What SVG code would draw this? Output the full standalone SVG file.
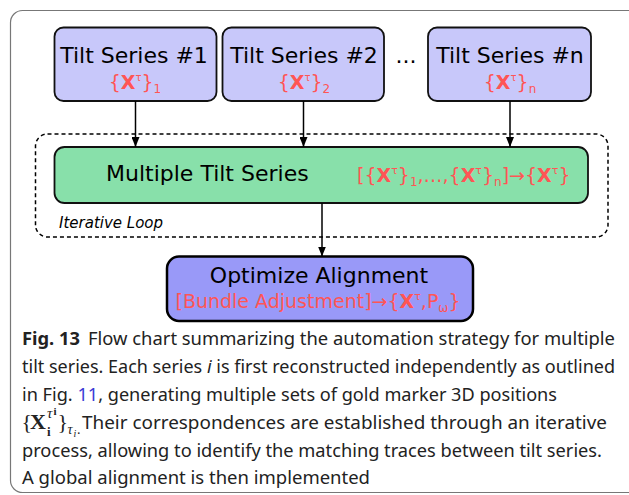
<svg xmlns="http://www.w3.org/2000/svg" width="629" height="495" viewBox="0 0 629 495">
<style>
.lbl{font-family:"DejaVu Sans",sans-serif;font-size:22px;fill:#000}
.red{font-family:"DejaVu Sans",sans-serif;font-size:19px;fill:#ff5555}
.b{font-weight:bold}
.ts{fill:#c8c8fa;stroke:#111;stroke-width:1.8}
.cap{font-family:"Noto Sans",sans-serif;font-size:18px;fill:#222}
.math{font-family:"Liberation Serif",serif;fill:#222}
.conn{stroke:#000;stroke-width:1.5;fill:none}
</style>
<defs>
<marker id="ah" markerUnits="userSpaceOnUse" markerWidth="10" markerHeight="8" refX="10" refY="4" orient="auto">
<path d="M0,0 L10,4 L0,8 z" fill="#000"/>
</marker>
</defs>
<rect id="frame" x="10.5" y="10.5" width="650" height="482" rx="12" fill="#fff" stroke="#777" stroke-width="1.2"/>
<g id="loop">
<rect x="35.5" y="134" width="572.5" height="103" rx="12" fill="none" stroke="#000" stroke-width="1.5" stroke-dasharray="4 3"/>
<text x="59" y="228" font-family="DejaVu Sans,sans-serif" font-size="15" font-style="italic" fill="#000">Iterative Loop</text>
</g>
<g id="ts1">
<rect class="ts" x="54.5" y="27.5" width="162" height="73.5" rx="9" stroke-width="1.5"/>
<text class="lbl" x="134" y="63" text-anchor="middle">Tilt Series #1</text>
<text class="red" x="135" y="89" text-anchor="middle" font-size="18">{<tspan class="b">X</tspan><tspan font-size="10" dy="-8">τ</tspan><tspan dy="8">}</tspan><tspan font-size="12" dy="4">1</tspan></text>
</g>
<g id="ts2">
<rect class="ts" x="222.5" y="27.5" width="161.5" height="73.5" rx="9"/>
<text class="lbl" x="304" y="63" text-anchor="middle">Tilt Series #2</text>
<text class="red" x="304" y="89" text-anchor="middle" font-size="18">{<tspan class="b">X</tspan><tspan font-size="10" dy="-8">τ</tspan><tspan dy="8">}</tspan><tspan font-size="12" dy="4">2</tspan></text>
</g>
<text id="dots" class="lbl" x="406" y="63" text-anchor="middle">...</text>
<g id="tsn">
<rect class="ts" x="428" y="27.5" width="163" height="73.5" rx="9"/>
<text class="lbl" x="510" y="63" text-anchor="middle">Tilt Series #n</text>
<text class="red" x="510" y="89" text-anchor="middle" font-size="18">{<tspan class="b">X</tspan><tspan font-size="10" dy="-8">τ</tspan><tspan dy="8">}</tspan><tspan font-size="12" dy="4">n</tspan></text>
</g>
<g id="multi">
<rect x="54.5" y="147" width="533.5" height="56" rx="10" fill="#88e0aa" stroke="#111" stroke-width="1.8"/>
<text class="lbl" x="106" y="181">Multiple Tilt Series</text>
<text class="red" x="357" y="182">[{<tspan class="b">X</tspan><tspan font-size="11" dy="-8">τ</tspan><tspan dy="8">}</tspan><tspan font-size="12" dy="4">1</tspan><tspan dy="-4">,…,{</tspan><tspan class="b">X</tspan><tspan font-size="11" dy="-8">τ</tspan><tspan dy="8">}</tspan><tspan font-size="12" dy="4">n</tspan><tspan dy="-4">]→{</tspan><tspan class="b">X</tspan><tspan font-size="11" dy="-8">τ</tspan><tspan dy="8">}</tspan></text>
</g>
<g id="opt">
<rect x="167" y="256.5" width="306" height="64.5" rx="12" fill="#9999f8" stroke="#000" stroke-width="2.5"/>
<text class="lbl" x="319" y="283" text-anchor="middle">Optimize Alignment</text>
<text class="red" x="318" y="308" text-anchor="middle">[Bundle Adjustment]→{<tspan class="b">X</tspan><tspan font-size="11" dy="-8">τ</tspan><tspan dy="8">,P</tspan><tspan font-size="12" dy="4">ω</tspan><tspan dy="-4">}</tspan></text>
</g>
<g id="connectors">
<path class="conn" d="M135.5,101 V147" marker-end="url(#ah)"/>
<path class="conn" d="M303.5,101 V147" marker-end="url(#ah)"/>
<path class="conn" d="M510,101 V147" marker-end="url(#ah)"/>
<path class="conn" d="M322,203 V256.5" marker-end="url(#ah)"/>
</g>
<g id="caption">
<text class="cap" x="22" y="345" font-weight="bold" textLength="58" lengthAdjust="spacingAndGlyphs">Fig. 13</text>
<text class="cap" x="88" y="345" textLength="527" lengthAdjust="spacingAndGlyphs">Flow chart summarizing the automation strategy for multiple</text>
<text class="cap" x="22" y="373" textLength="593" lengthAdjust="spacingAndGlyphs">tilt series. Each series <tspan font-style="italic">i</tspan> is first reconstructed independently as outlined</text>
<text class="cap" x="22" y="401" textLength="535" lengthAdjust="spacingAndGlyphs">in Fig. <tspan fill="#3c3cd6">11</tspan>, generating multiple sets of gold marker 3D positions</text>
<text class="math" font-size="22"><tspan x="21.5" y="429">{</tspan><tspan x="30" y="429" font-weight="bold">X</tspan><tspan x="47" y="418" font-size="15" font-style="italic">τ</tspan><tspan x="53.5" y="415" font-size="11" font-weight="bold">i</tspan><tspan x="47" y="436" font-size="13" font-weight="bold">i</tspan><tspan x="57.5" y="429">}</tspan><tspan x="67.5" y="434" font-size="14" font-style="italic">τ</tspan><tspan x="73.5" y="437" font-size="10" font-style="italic">i</tspan><tspan x="77" y="434" font-size="14">.</tspan></text>
<text class="cap" x="82" y="429" textLength="525" lengthAdjust="spacingAndGlyphs">Their correspondences are established through an iterative</text>
<text class="cap" x="22" y="457" textLength="580" lengthAdjust="spacingAndGlyphs">process, allowing to identify the matching traces between tilt series.</text>
<text class="cap" x="22" y="484" textLength="348" lengthAdjust="spacingAndGlyphs">A global alignment is then implemented</text>
</g>
</svg>
